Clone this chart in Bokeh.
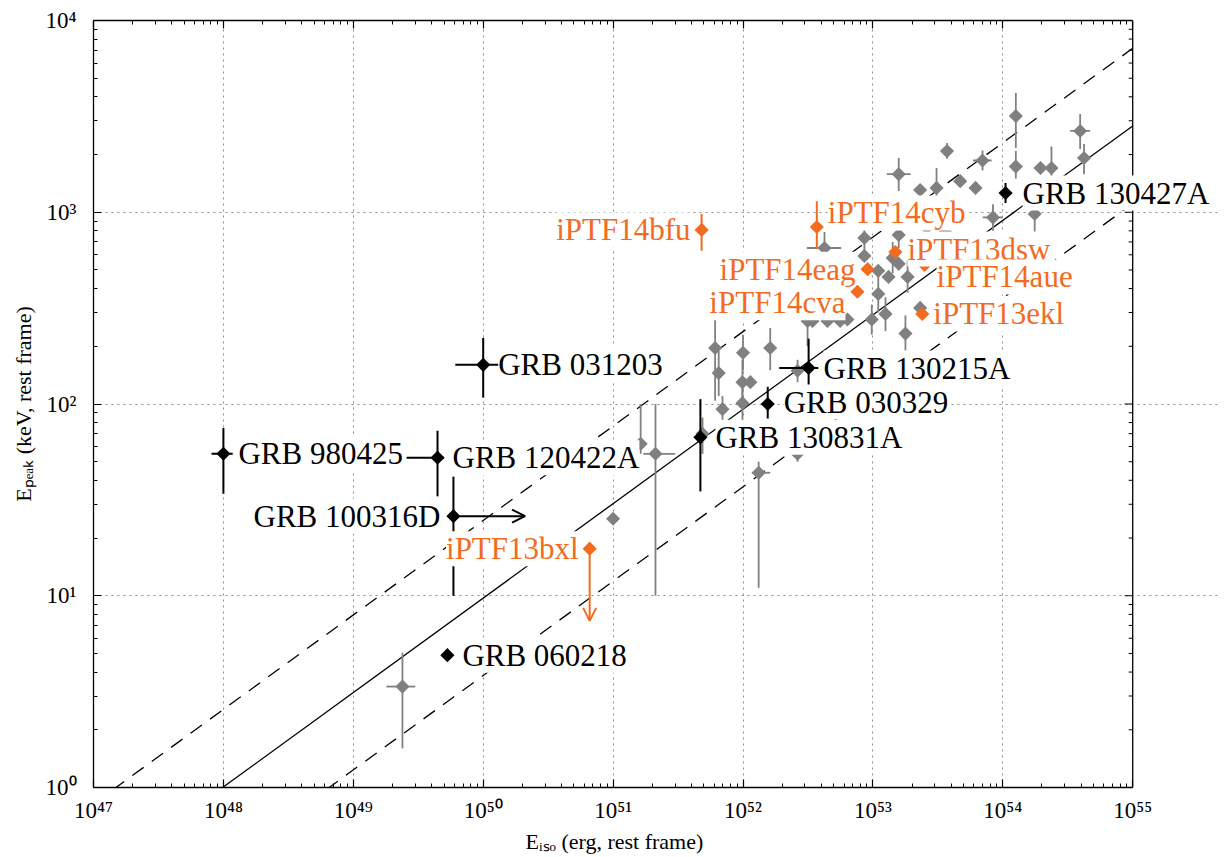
import numpy as np
from bokeh.plotting import figure
from bokeh.models import (ColumnDataSource, Range1d, LogAxis, FixedTicker,
                          CustomJSTickFormatter, Arrow, OpenHead, Label, Span, Title)
from bokeh.embed import file_html
from bokeh.resources import INLINE

FONT = "Liberation Serif"
GRAY = "#808080"
ORANGE = "#f26b1f"

# ---------------- data ----------------
# Amati relation (solid) and its scatter band (dashed), end points at the x-axis limits
line_eiso = [1e47, 1e55]
amati_epk = [0.324, 2818.0]
upper_epk = [0.822, 7160.0]
lower_epk = [0.128, 1109.0]

# comparison sample of GRBs (gray)
sample_eiso = [1.26e54, 3.94e54, 4.22e54, 3.72e53, 1.58e53, 6.98e53, 1.26e54, 1.95e54,
               2.37e54, 4.7e53, 6.17e53, 3.09e53, 2.31e53, 1.76e54, 8.4e53, 1.58e53,
               8.6e52, 4.24e52, 8.6e52, 1.42e53, 1.58e53, 1.85e53, 1.1e53, 1.32e53,
               4.47e52, 1.1e53, 1.25e53, 1.78e53, 2.31e53, 2.68e53, 3.14e52, 3.43e52,
               4.47e52, 5.6e52, 6.37e52, 9.8e52, 6.1e51, 1.0e52, 1.62e52, 6.5e51,
               9.9e51, 1.14e52, 9.9e51, 6.95e51, 2.63e52, 4.88e51, 1.63e51, 2.12e51,
               1.0e51, 1.32e52, 2.63e52, 2.39e49, 2.6e53, 3.6e53]
sample_epk = [3175, 2654, 1918, 2085, 1580, 1862, 1730, 1702,
              1702, 1452, 1340, 1340, 1307, 979, 940, 762,
              735, 651, 592, 578, 538, 460, 495, 460,
              398, 375, 295, 233, 317, 560, 271, 271,
              271, 271, 276, 276, 196, 185, 196, 145,
              130, 130, 101, 94, 149, 70, 62, 55,
              25.2, 43.8, 55, 3.36, 830, 790]
sample_epk_lo = [2160, 2140, 1580, 1900, 1290, 1650, 1500, 1702,
                 1500, 1452, 1340, 1200, 1307, 735, 800, 650,
                 620, 540, 592, 480, 538, 380, 495, 460,
                 300, 300, 240, 190, 317, 560, 200, 271,
                 271, 271, 276, 230, 104, 150, 150, 110,
                 100, 130, 80, 80, 130, 55, 55, 10,
                 25.2, 11, 50, 1.6, 720, 700]
sample_epk_hi = [4190, 3250, 2270, 2300, 1918, 2100, 2085, 1702,
                 2200, 1452, 1340, 1700, 1307, 1140, 1100, 880,
                 850, 790, 592, 700, 538, 560, 495, 460,
                 520, 470, 360, 290, 317, 560, 340, 271,
                 271, 271, 276, 330, 288, 230, 249, 190,
                 170, 130, 125, 110, 170, 85, 100, 100,
                 25.2, 50, 62, 5.05, 950, 900]
sample_eiso_lo = [1.26e54, 3.3e54, 4.22e54, 3.72e53, 1.28e53, 5.9e53, 1.26e54, 1.95e54,
                  2.37e54, 4.7e53, 6.17e53, 3.09e53, 2.31e53, 1.76e54, 7.0e53, 1.58e53,
                  8.6e52, 3.1e52, 8.6e52, 1.42e53, 1.58e53, 1.85e53, 1.1e53, 1.32e53,
                  4.47e52, 1.1e53, 1.25e53, 1.78e53, 2.31e53, 2.68e53, 3.14e52, 3.43e52,
                  4.47e52, 5.6e52, 6.37e52, 9.8e52, 6.1e51, 1.0e52, 1.62e52, 6.5e51,
                  9.9e51, 1.14e52, 9.9e51, 6.95e51, 2.63e52, 4.88e51, 1.63e51, 1.71e51,
                  1.0e51, 1.17e52, 2.63e52, 1.8e49, 2.6e53, 3.6e53]
sample_eiso_hi = [1.26e54, 4.7e54, 4.22e54, 3.72e53, 1.95e53, 8.2e53, 1.26e54, 1.95e54,
                  2.37e54, 4.7e53, 6.17e53, 3.09e53, 2.31e53, 1.76e54, 1.0e54, 1.58e53,
                  8.6e52, 5.7e52, 8.6e52, 1.42e53, 1.58e53, 1.85e53, 1.1e53, 1.32e53,
                  4.47e52, 1.1e53, 1.25e53, 1.78e53, 2.31e53, 2.68e53, 3.14e52, 3.43e52,
                  4.47e52, 5.6e52, 6.37e52, 9.8e52, 6.1e51, 1.0e52, 1.62e52, 6.5e51,
                  9.9e51, 1.14e52, 9.9e51, 6.95e51, 2.63e52, 4.88e51, 1.63e51, 3.0e51,
                  1.0e51, 1.62e52, 2.63e52, 3.0e49, 2.6e53, 3.6e53]

# named GRBs (black)
grb_names = ["GRB 980425", "GRB 120422A", "GRB 100316D", "GRB 031203", "GRB 060218",
             "GRB 130831A", "GRB 030329", "GRB 130215A", "GRB 130427A"]
grb_eiso = [1.0e48, 4.45e49, 5.9e49, 1.0e50, 5.3e49, 4.7e51, 1.55e52, 3.2e52, 1.05e54]
grb_epk = [55, 52.5, 26, 160, 4.9, 67, 100, 154, 1260]
grb_epk_lo = [34, 33, 10, 108, 4.9, 35, 84, 121, 1117]
grb_epk_hi = [75, 72.5, 41.8, 221, 4.9, 106, 123, 219, 1420]
grb_eiso_lo = [8.1e47, 2.57e49, 5.9e49, 6.1e49, 5.3e49, 4.7e51, 1.4e52, 1.9e52, 1.0e54]
grb_eiso_hi = [1.18e48, 5.0e49, 5.9e49, 1.65e50, 5.3e49, 4.7e51, 1.7e52, 3.8e52, 1.1e54]
grb_label_dx = [15, 15, -13, 15, 15, 15, 16, 15, 17]
grb_label_dy = [0, 0, 0, 0, 0, 0, 2, 0, 0]
grb_label_align = ["left", "left", "right", "left", "left", "left", "left", "left", "left"]

# GRB 100316D: lower limit on Eiso
grb100316d_limit_eiso = [5.9e49, 2.1e50]
grb100316d_limit_epk = [26, 26]

# iPTF events (orange)
iptf_names = ["iPTF14bfu", "iPTF14cyb", "iPTF13dsw", "iPTF14eag", "iPTF14aue",
              "iPTF14cva", "iPTF13ekl", "iPTF13bxl"]
iptf_eiso = [4.8e51, 3.7e52, 1.49e53, 9.1e52, 2.5e53, 7.6e52, 2.4e53, 6.6e50]
iptf_epk = [809, 838, 620, 505, 531, 385, 295, 17.6]
iptf_epk_lo = [630, 645, 620, 505, 531, 385, 295, 17.6]
iptf_epk_hi = [980, 1140, 620, 505, 531, 385, 295, 17.6]
iptf_label_dx = [-11, 11, 12, -12, 12, -12, 11, -11]
iptf_label_dy = [0, 14, 3, 0, -12, -11, 0, 0]
iptf_label_align = ["right", "left", "left", "right", "left", "right", "left", "right"]

# iPTF13bxl: upper limit on Epeak
iptf13bxl_limit_eiso = [6.6e50, 6.6e50]
iptf13bxl_limit_epk = [17.6, 7.4]

# axis ticks
x_tick_exp = [47, 48, 49, 50, 51, 52, 53, 54, 55]
x_tick_labels = ["10⁴⁷", "10⁴⁸", "10⁴⁹", "10⁵⁰", "10⁵¹", "10⁵²", "10⁵³", "10⁵⁴", "10⁵⁵"]
y_tick_exp = [0, 1, 2, 3, 4]
y_tick_labels = ["10⁰", "10¹", "10²", "10³", "10⁴"]
x_axis_title = "Eᵢₛₒ (erg, rest frame)"
y_axis_title = "Eₚₑₐₖ (keV, rest frame)"

# ---------------- layout ----------------
# The axes box ends at 1e55; the frame is extended a little further right (blank)
# so that the "GRB 130427A" label can run past the right axis as in the reference.
W, H = 1222, 855
B_LEFT, B_RIGHT, B_TOP, B_BOTTOM = 93, 5, 20, 68
PX_PER_DEC = 129.9
X_LO, X_HI = 1e47, 1e55
x_view_end = 10 ** (47 + (W - B_LEFT - B_RIGHT) / PX_PER_DEC)

p = figure(width=W, height=H, x_axis_type="log", y_axis_type="log",
           x_range=Range1d(X_LO, x_view_end), y_range=Range1d(1, 1e4),
           output_backend="svg", toolbar_location=None,
           min_border_left=B_LEFT, min_border_top=B_TOP,
           min_border_right=B_RIGHT, min_border_bottom=B_BOTTOM)
p.outline_line_color = None
p.background_fill_color = "white"

x_major = [10.0 ** e for e in x_tick_exp]
y_major = [10.0 ** e for e in y_tick_exp]
x_minor = [m * 10.0 ** e for e in x_tick_exp[:-1] for m in range(2, 10)]
y_minor = [m * 10.0 ** e for e in y_tick_exp[:-1] for m in range(2, 10)]
xt = FixedTicker(ticks=x_major, minor_ticks=x_minor)
yt = FixedTicker(ticks=y_major, minor_ticks=y_minor)


def fmt(exps, labels):
    return CustomJSTickFormatter(args=dict(exps=exps, labels=labels), code="""
        const e = Math.round(Math.log10(tick));
        const i = exps.indexOf(e);
        return i >= 0 ? labels[i] : "";
    """)


def style_axis(ax, ticker, show):
    ax.ticker = ticker
    ax.axis_line_color = "black"
    ax.axis_line_width = 1.3
    ax.major_tick_in = 8
    ax.major_tick_out = 0
    ax.minor_tick_in = 4
    ax.minor_tick_out = 0
    ax.major_tick_line_color = "black"
    ax.minor_tick_line_color = "black"
    ax.major_tick_line_width = 1.2
    ax.minor_tick_line_width = 1.0
    ax.major_label_text_font = FONT
    ax.axis_label_text_font = FONT
    ax.axis_label_text_font_style = "normal"
    ax.axis_label_text_color = "black"
    ax.major_label_text_color = "black"
    if not show:
        ax.major_label_text_font_size = "0px"
        ax.major_label_standoff = 0
        ax.formatter = CustomJSTickFormatter(code="return '';")


xax = p.xaxis[0]
yax = p.yaxis[0]
style_axis(xax, xt, True)
style_axis(yax, yt, True)
xax.bounds = (X_LO, X_HI)
xax.formatter = fmt(x_tick_exp, x_tick_labels)
yax.formatter = fmt(y_tick_exp, y_tick_labels)
xax.major_label_text_font_size = "23px"
yax.major_label_text_font_size = "23px"
xax.major_label_standoff = 10
yax.major_label_standoff = 17
yax.axis_label = y_axis_title
yax.axis_label_text_font_size = "22px"
yax.axis_label_standoff = 6

# x-axis title as a below-panel Title, positioned under the centre of the axes box
x_title = Title(text=x_axis_title, align="left", offset=432, standoff=3,
                text_font=FONT, text_font_size="22px", text_font_style="normal",
                text_color="black")
p.add_layout(x_title, "below")

top = LogAxis()
style_axis(top, xt, False)
top.bounds = (X_LO, X_HI)
p.add_layout(top, "above")

for g, t in ((p.xgrid[0], xt), (p.ygrid[0], yt)):
    g.ticker = t
    g.grid_line_color = "#8c8c8c"
    g.grid_line_width = 1
    g.grid_line_dash = "2 4"

# blank out the area right of the axes box (covers the horizontal grid lines)
p.quad(left=[X_HI], right=[x_view_end], bottom=[1], top=[1e4],
       fill_color="white", line_color=None, level="underlay")

# right-hand axis line with inward ticks at 1e55
right_major_len = 10 ** (-8 / PX_PER_DEC)
right_minor_len = 10 ** (-4 / PX_PER_DEC)
p.segment(x0=[X_HI * right_major_len] * len(y_major), y0=y_major,
          x1=[X_HI] * len(y_major), y1=y_major, line_color="black", line_width=1.2)
p.segment(x0=[X_HI * right_minor_len] * len(y_minor), y0=y_minor,
          x1=[X_HI] * len(y_minor), y1=y_minor, line_color="black", line_width=1.0)
p.add_layout(Span(location=X_HI, dimension="height", line_color="black", line_width=1.3))

# Amati relation lines
lines = ColumnDataSource(dict(x=line_eiso, a=amati_epk, u=upper_epk, l=lower_epk))
p.line("x", "a", source=lines, line_color="black", line_width=1.3)
p.line("x", "u", source=lines, line_color="black", line_width=1.3, line_dash="14 10")
p.line("x", "l", source=lines, line_color="black", line_width=1.3, line_dash="14 10")

# gray sample
s_src = ColumnDataSource(dict(x=sample_eiso, y=sample_epk, ylo=sample_epk_lo, yhi=sample_epk_hi,
                              xlo=sample_eiso_lo, xhi=sample_eiso_hi))
p.segment("x", "ylo", "x", "yhi", source=s_src, line_color=GRAY, line_width=1.8)
p.segment("xlo", "y", "xhi", "y", source=s_src, line_color=GRAY, line_width=1.8)
p.scatter("x", "y", source=s_src, marker="square", angle=np.pi / 4, size=10,
          fill_color=GRAY, line_color=None)

# named GRBs
g_src = ColumnDataSource(dict(x=grb_eiso, y=grb_epk, ylo=grb_epk_lo, yhi=grb_epk_hi,
                              xlo=grb_eiso_lo, xhi=grb_eiso_hi))
p.segment("x", "ylo", "x", "yhi", source=g_src, line_color="black", line_width=2)
p.segment("xlo", "y", "xhi", "y", source=g_src, line_color="black", line_width=2)
p.scatter("x", "y", source=g_src, marker="square", angle=np.pi / 4, size=10,
          fill_color="black", line_color=None)

# iPTF events
o_src = ColumnDataSource(dict(x=iptf_eiso, y=iptf_epk, ylo=iptf_epk_lo, yhi=iptf_epk_hi))
p.segment("x", "ylo", "x", "yhi", source=o_src, line_color=ORANGE, line_width=2)
p.scatter("x", "y", source=o_src, marker="square", angle=np.pi / 4, size=10,
          fill_color=ORANGE, line_color=None)

# limits
p.add_layout(Arrow(end=OpenHead(size=13, line_color="black", line_width=2),
                   x_start=grb100316d_limit_eiso[0], y_start=grb100316d_limit_epk[0],
                   x_end=grb100316d_limit_eiso[1], y_end=grb100316d_limit_epk[1],
                   line_color="black", line_width=2))
p.add_layout(Arrow(end=OpenHead(size=13, line_color=ORANGE, line_width=2),
                   x_start=iptf13bxl_limit_eiso[0], y_start=iptf13bxl_limit_epk[0],
                   x_end=iptf13bxl_limit_eiso[1], y_end=iptf13bxl_limit_epk[1],
                   line_color=ORANGE, line_width=2))

# labels
all_x = grb_eiso + iptf_eiso
all_y = grb_epk + iptf_epk
all_names = grb_names + iptf_names
all_dx = grb_label_dx + iptf_label_dx
all_dy = grb_label_dy + iptf_label_dy
all_align = grb_label_align + iptf_label_align
all_color = ["black"] * len(grb_names) + [ORANGE] * len(iptf_names)
for xv, yv, nm, dx, dy, al, col in zip(all_x, all_y, all_names, all_dx, all_dy,
                                        all_align, all_color):
    p.add_layout(Label(x=xv, y=yv, text=nm, x_offset=dx, y_offset=dy,
                       text_align=al, text_baseline="middle", text_color=col,
                       text_font=FONT, text_font_size="31px",
                       background_fill_color="white"))

open("out.html", "w").write(file_html(p, INLINE))
